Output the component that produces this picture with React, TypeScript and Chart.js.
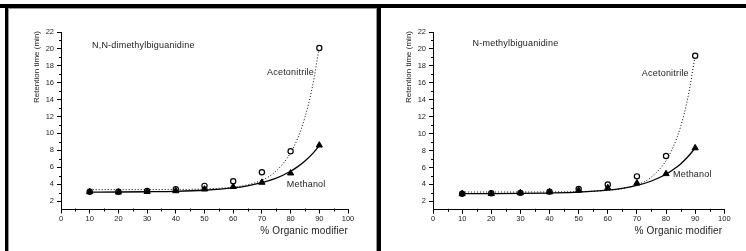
import { useEffect, useRef } from "react";
import { Chart, registerables } from "chart.js";

Chart.register(...registerables);

// ---- data ----
const modifierPercent = [10, 20, 30, 40, 50, 60, 70, 80, 90];
const dimethylAcetonitrile = [3.1, 3.1, 3.2, 3.4, 3.8, 4.35, 5.4, 7.9, 20.1];
const dimethylMethanol = [3.1, 3.05, 3.1, 3.2, 3.4, 3.7, 4.2, 5.3, 8.6];
const methylAcetonitrile = [2.9, 2.95, 3.0, 3.15, 3.45, 4.0, 4.95, 7.35, 19.2];
const methylMethanol = [2.9, 2.9, 3.0, 3.1, 3.3, 3.6, 4.15, 5.25, 8.3];

const fitPercent = [10, 20, 30, 40, 50, 60, 65, 70, 75, 80, 82.5, 85, 87.5, 90];
const dimethylAcetonitrileFit = [3.35, 3.35, 3.355, 3.37, 3.43, 3.64, 3.92, 4.47, 5.56, 7.7, 9.45, 11.91, 15.36, 20.2];
const dimethylMethanolFit = [3.06, 3.07, 3.1, 3.15, 3.28, 3.55, 3.8, 4.17, 4.71, 5.53, 6.07, 6.74, 7.55, 8.55];
const methylAcetonitrileFit = [3.1, 3.1, 3.1, 3.11, 3.15, 3.3, 3.51, 3.95, 4.87, 6.8, 8.45, 10.82, 14.25, 19.2];
const methylMethanolFit = [2.9, 2.91, 2.93, 2.98, 3.08, 3.32, 3.54, 3.88, 4.4, 5.2, 5.75, 6.42, 7.26, 8.3];

const xTickValues = [0, 10, 20, 30, 40, 50, 60, 70, 80, 90, 100];
const xMinorTickValues = [5, 15, 25, 35, 45, 55, 65, 75, 85, 95];
const yTickValues = [2, 4, 6, 8, 10, 12, 14, 16, 18, 20, 22];
const yMinorTickValues = [3, 5, 7, 9, 11, 13, 15, 17, 19, 21];

const xTitle = "% Organic modifier";
const yTitle = "Retention time (min)";

const FONT = "'Liberation Sans', Arial, sans-serif";
const TEXT = "#222";

type Note = { text: string; x: number; y: number };

const pts = (xs: number[], ys: number[]) => xs.map((x, i) => ({ x, y: ys[i] }));

const decorPlugin = {
  id: "decor",
  afterDraw(chart: any, _args: any, opts: any) {
    const { ctx, chartArea } = chart;
    const x = chart.scales.x;
    const y = chart.scales.y;
    ctx.save();
    ctx.strokeStyle = "#000";
    ctx.lineWidth = 1;
    ctx.beginPath();
    for (const v of yMinorTickValues) {
      const py = Math.round(y.getPixelForValue(v)) + 0.5;
      ctx.moveTo(chartArea.left - 2, py);
      ctx.lineTo(chartArea.left + 1, py);
    }
    for (const v of xMinorTickValues) {
      const px = Math.round(x.getPixelForValue(v)) + 0.5;
      ctx.moveTo(px, chartArea.bottom - 1);
      ctx.lineTo(px, chartArea.bottom + 2);
    }
    ctx.stroke();

    ctx.fillStyle = TEXT;
    // annotations
    ctx.font = `9px ${FONT}`;
    (ctx as any).letterSpacing = "0.2px";
    ctx.textAlign = "left";
    ctx.textBaseline = "middle";
    for (const n of opts.notes as Note[]) {
      ctx.fillText(n.text, x.getPixelForValue(n.x), y.getPixelForValue(n.y));
    }
    // x title
    ctx.font = `10px ${FONT}`;
    (ctx as any).letterSpacing = "0.15px";
    ctx.textAlign = "right";
    ctx.fillText(xTitle, chartArea.right + opts.xTitleDx, chartArea.bottom + 21.5);
    // y title
    ctx.font = `8px ${FONT}`;
    (ctx as any).letterSpacing = "0px";
    ctx.translate(chartArea.left - 24, chartArea.top - 1);
    ctx.rotate(-Math.PI / 2);
    ctx.textAlign = "right";
    ctx.fillText(yTitle, 0, 0);
    ctx.restore();
  },
};

function makeConfig(
  acn: number[],
  meoh: number[],
  acnFit: number[],
  meohFit: number[],
  notes: Note[],
  geo: { yWidth: number; top: number; right: number; bottom: number; xTitleDx: number }
): any {
  return {
    type: "line",
    data: {
      datasets: [
        {
          data: pts(modifierPercent, meoh),
          showLine: false,
          pointStyle: "triangle",
          pointRadius: 3.6,
          pointBackgroundColor: "#000",
          pointBorderColor: "#000",
          pointBorderWidth: 1,
          order: 0,
        },
        {
          data: pts(modifierPercent, acn),
          showLine: false,
          pointStyle: "circle",
          pointRadius: 2.6,
          pointBackgroundColor: "#fff",
          pointBorderColor: "#000",
          pointBorderWidth: 1.2,
          order: 1,
        },
        {
          data: pts(fitPercent, acnFit),
          borderColor: "#000",
          borderWidth: 1,
          borderDash: [1, 2],
          pointRadius: 0,
          cubicInterpolationMode: "monotone",
          order: 2,
        },
        {
          data: pts(fitPercent, meohFit),
          borderColor: "#000",
          borderWidth: 1.3,
          pointRadius: 0,
          cubicInterpolationMode: "monotone",
          order: 2,
        },
      ],
    },
    options: {
      responsive: false,
      animation: false,
      devicePixelRatio: 1,
      layout: { padding: { left: 0, top: geo.top, right: geo.right, bottom: geo.bottom } },
      plugins: {
        legend: { display: false },
        tooltip: { enabled: false },
        decor: { notes, xTitleDx: geo.xTitleDx },
      },
      scales: {
        x: {
          type: "linear",
          min: 0,
          max: 100,
          afterBuildTicks: (s: any) => {
            s.ticks = xTickValues.map((v) => ({ value: v }));
          },
          afterFit: (s: any) => {
            s.height = 20;
          },
          ticks: { font: { family: FONT, size: 7.5 }, color: TEXT, padding: 1, maxRotation: 0, autoSkip: false },
          grid: { drawOnChartArea: false, drawTicks: true, tickLength: 4, color: "#000", tickColor: "#000" },
          border: { display: true, color: "#000", width: 1 },
        },
        y: {
          type: "linear",
          min: 1,
          max: 22,
          afterBuildTicks: (s: any) => {
            s.ticks = yTickValues.map((v) => ({ value: v }));
          },
          afterFit: (s: any) => {
            s.width = geo.yWidth;
          },
          ticks: { font: { family: FONT, size: 7.5 }, color: TEXT, padding: 3, autoSkip: false },
          grid: { drawOnChartArea: false, drawTicks: true, tickLength: 4, color: "#000", tickColor: "#000" },
          border: { display: true, color: "#000", width: 1 },
        },
      },
    },
    plugins: [decorPlugin],
  };
}

const leftNotes: Note[] = [
  { text: "N,N-dimethylbiguanidine", x: 10.8, y: 20.35 },
  { text: "Acetonitrile", x: 71.8, y: 17.15 },
  { text: "Methanol", x: 78.7, y: 4.0 },
];
const rightNotes: Note[] = [
  { text: "N-methylbiguanidine", x: 13.6, y: 20.67 },
  { text: "Acetonitrile", x: 71.7, y: 17.13 },
  { text: "Methanol", x: 82.4, y: 5.22 },
];

export default function App() {
  const leftRef = useRef<HTMLCanvasElement>(null);
  const rightRef = useRef<HTMLCanvasElement>(null);

  useEffect(() => {
    const a = new Chart(
      leftRef.current as HTMLCanvasElement,
      makeConfig(dimethylAcetonitrile, dimethylMethanol, dimethylAcetonitrileFit, dimethylMethanolFit, leftNotes, {
        yWidth: 52,
        top: 23,
        right: 28,
        bottom: 21.5,
        xTitleDx: 0,
      })
    );
    const b = new Chart(
      rightRef.current as HTMLCanvasElement,
      makeConfig(methylAcetonitrile, methylMethanol, methylAcetonitrileFit, methylMethanolFit, rightNotes, {
        yWidth: 52,
        top: 24,
        right: 21.7,
        bottom: 21.2,
        xTitleDx: -2,
      })
    );
    return () => {
      a.destroy();
      b.destroy();
    };
  }, []);

  const abs = (l: number, t: number, w: number, h: number, bg: string) => ({
    position: "absolute" as const,
    left: l,
    top: t,
    width: w,
    height: h,
    background: bg,
  });

  return (
    <div style={{ position: "absolute", left: 0, top: 0, width: 746, height: 251, background: "#fff", overflow: "hidden" }}>
      <canvas ref={leftRef} width={367} height={242} style={{ position: "absolute", left: 9, top: 9, width: 367, height: 242 }} />
      <canvas ref={rightRef} width={365} height={243} style={{ position: "absolute", left: 381, top: 8, width: 365, height: 243 }} />
      <div style={abs(0, 4, 746, 4, "#000")} />
      <div style={abs(5, 4, 3, 247, "#000")} />
      <div style={abs(8, 8, 1, 243, "#999")} />
      <div style={abs(8, 8, 368, 1, "#999")} />
      <div style={abs(376, 8, 1, 243, "#999")} />
      <div style={abs(377, 4, 4, 247, "#000")} />
    </div>
  );
}
